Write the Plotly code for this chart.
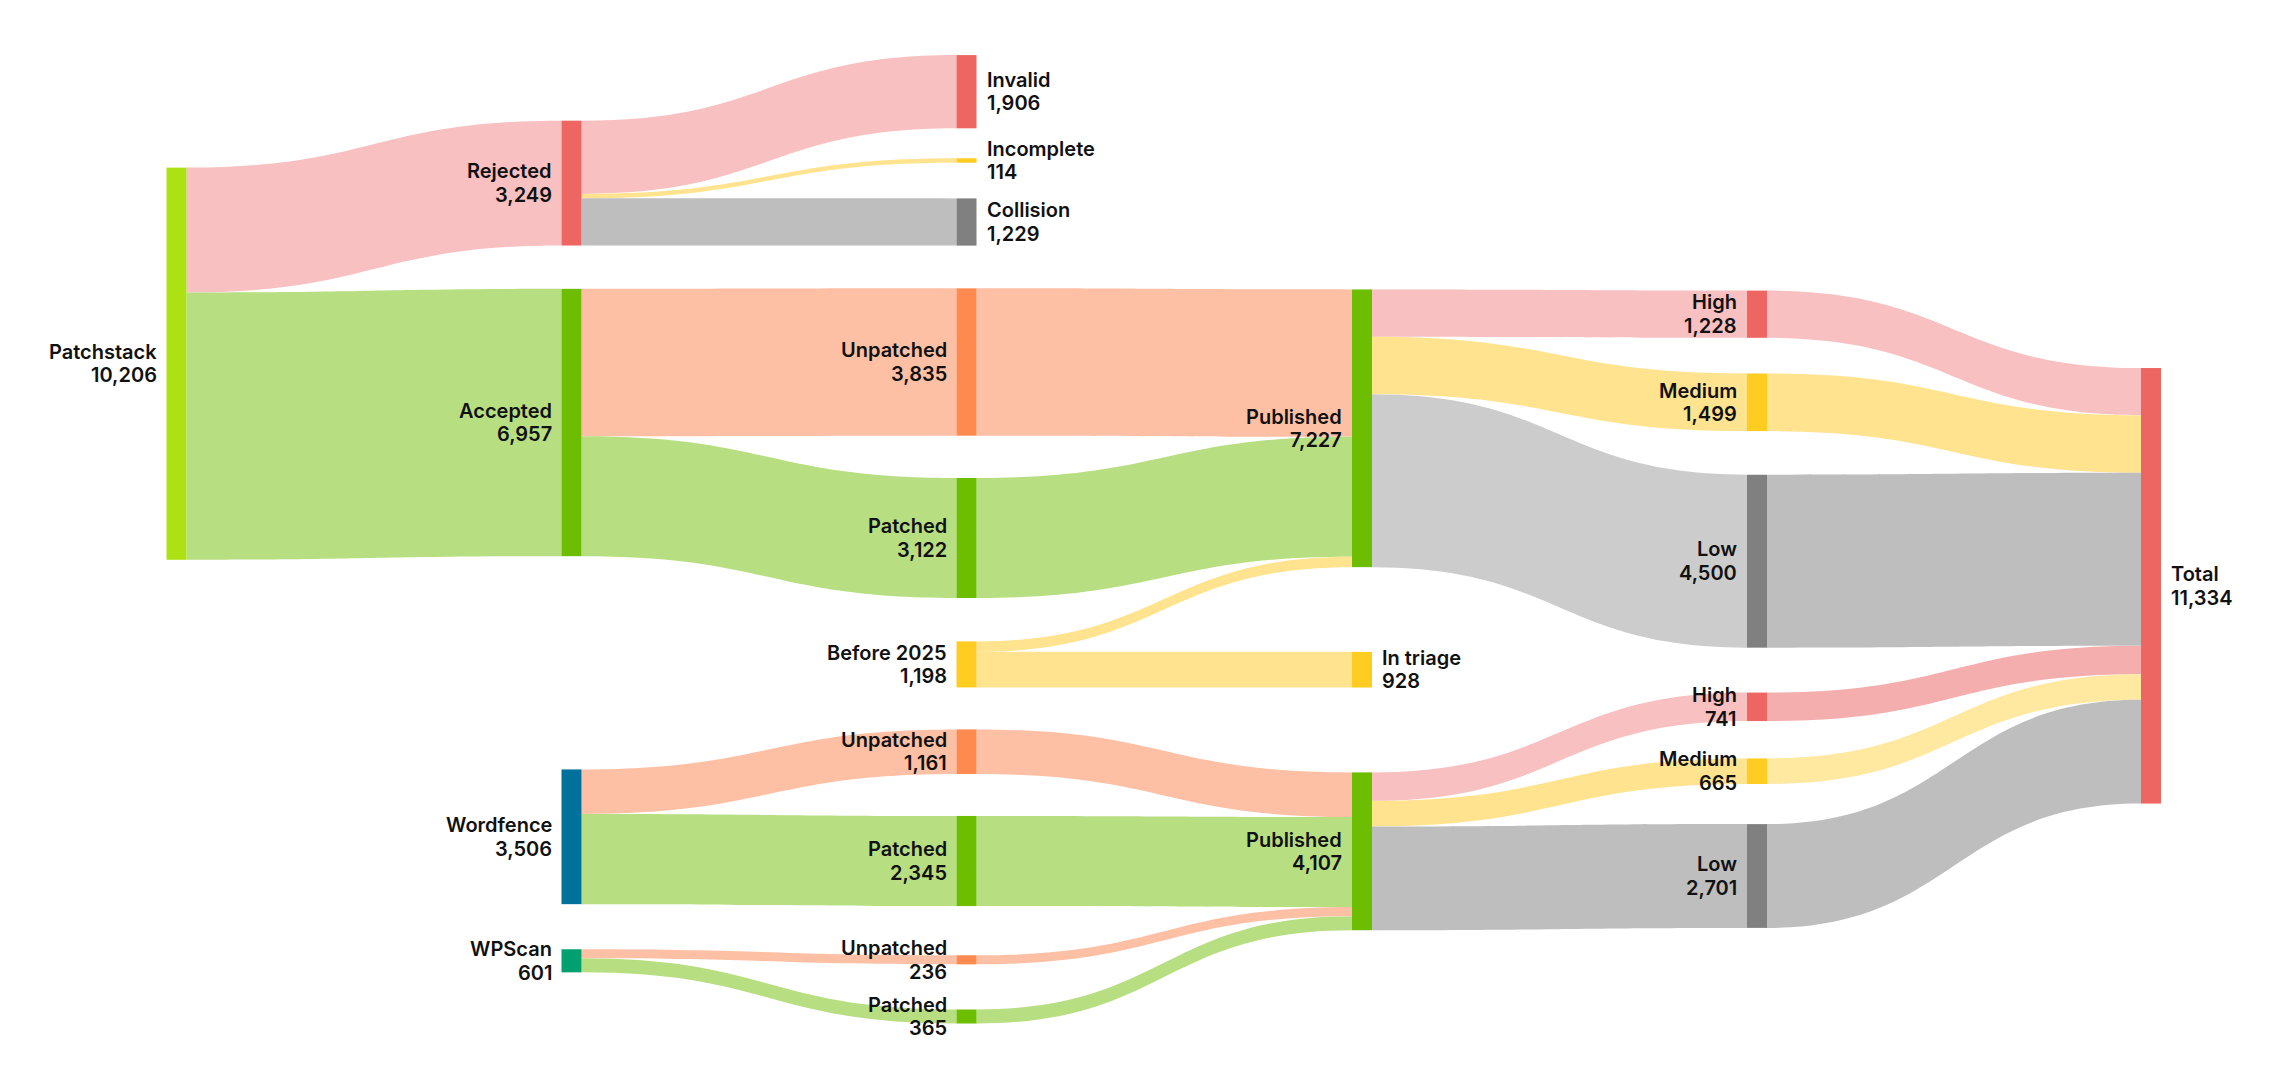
import plotly.graph_objects as go

# ---------------- data ----------------
node_names = ["Patchstack", "Rejected", "Accepted", "Invalid", "Incomplete", "Collision",
              "Unpatched", "Patched", "Before 2025", "Published", "In triage",
              "High", "Medium", "Low", "Total", "Wordfence", "WPScan",
              "Unpatched", "Patched", "Unpatched", "Patched", "Published",
              "High", "Medium", "Low"]

link_source = [0, 0, 1, 1, 1, 2, 2, 6, 7, 8, 8, 9, 9, 9, 11, 12, 13,
               15, 15, 16, 16, 17, 18, 19, 20, 21, 21, 21, 22, 23, 24]
link_target = [1, 2, 3, 4, 5, 6, 7, 9, 9, 9, 10, 11, 12, 13, 14, 14, 14,
               17, 18, 19, 20, 21, 21, 21, 21, 22, 23, 24, 14, 14, 14]
link_value = [3249, 6957, 1906, 114, 1229, 3835, 3122, 3835, 3122, 270, 928,
              1228, 1499, 4500, 1228, 1499, 4500,
              1161, 2345, 236, 365, 1161, 2345, 236, 365,
              741, 665, 2701, 741, 665, 2701]

# ---------------- layout / style ----------------
W, H = 2287, 1080
THICK = 20
col_px = [176.5, 571.5, 966.5, 1362, 1757, 2151]
node_col = [0, 1, 1, 2, 2, 2, 2, 2, 2, 3, 3, 4, 4, 4, 5, 1, 1, 2, 2, 2, 2, 3, 4, 4, 4]
node_y_px = [363.7, 183.1, 422.5, 91.7, 160.5, 222.0, 362.0, 538.0, 664.4, 428.3, 669.7,
             314.2, 402.3, 561.2, 585.8, 836.8, 960.8, 751.7, 861.0, 959.8, 1016.5,
             851.3, 706.8, 771.2, 876.0]
label_right = {3, 4, 5, 10, 14}
LINE_GAP = 23.5
FONT = dict(family="Inter, Lato, sans-serif", size=20, color="#111111", weight=600)

RED, GREEN, LIME = "#EE6661", "#6DBE00", "#ACE214"
ORANGE, YELLOW, GRAY = "#FF8A4F", "#FFCC21", "#808080"
BLUE, TEAL = "#00709D", "#00A070"
node_colors = [LIME, RED, GREEN, RED, YELLOW, GRAY, ORANGE, GREEN, YELLOW, GREEN, YELLOW,
               RED, YELLOW, GRAY, RED, BLUE, TEAL, ORANGE, GREEN, ORANGE, GREEN, GREEN,
               RED, YELLOW, GRAY]

PINK, LGREEN, PEACH, LYEL = "#F8C0C0", "#B8DE82", "#FEC0A4", "#FFE38F"
LGRAY, LGRAY2 = "#BEBEBE", "#CCCCCC"
link_colors = [PINK, LGREEN, PINK, LYEL, LGRAY, PEACH, LGREEN, PEACH, LGREEN, LYEL, LYEL,
               PINK, LYEL, LGRAY2, PINK, LYEL, LGRAY,
               PEACH, LGREEN, PEACH, LGREEN, PEACH, LGREEN, PEACH, LGREEN,
               PINK, LYEL, LGRAY, "#F5AEAE", "#FFE8A0", LGRAY]

# node values (as plotly computes them)
n = len(node_names)
vin = [0] * n
vout = [0] * n
for s, t, v in zip(link_source, link_target, link_value):
    vout[s] += v
    vin[t] += v
node_values = [max(a, b) for a, b in zip(vin, vout)]

node_x = [col_px[c] / W for c in node_col]
node_y = [y / H for y in node_y_px]

fig = go.Figure(go.Sankey(
    arrangement="fixed",
    domain=dict(x=[0, 1], y=[0, 1]),
    node=dict(
        label=[""] * n,
        x=node_x,
        y=node_y,
        color=node_colors,
        thickness=THICK,
        pad=106,
        line=dict(width=0),
        customdata=node_names,
        hovertemplate="%{customdata}: %{value:,}<extra></extra>",
    ),
    link=dict(
        source=link_source,
        target=link_target,
        value=link_value,
        color=link_colors,
        hoverinfo="none",
    ),
))

annotations = []
for i in range(n):
    right = i in label_right
    for txt, ys in ((node_names[i], LINE_GAP / 2), (f"{node_values[i]:,}", -LINE_GAP / 2)):
        annotations.append(dict(
            xref="paper", yref="paper",
            x=node_x[i], y=1 - node_y[i],
            text=txt,
            showarrow=False,
            xanchor="left" if right else "right",
            yanchor="middle",
            align="left" if right else "right",
            xshift=(THICK / 2 + 8) * (1 if right else -1),
            yshift=ys,
            font=FONT,
        ))

fig.update_layout(
    width=W, height=H,
    margin=dict(l=0, r=0, t=0, b=0),
    paper_bgcolor="white",
    plot_bgcolor="white",
    annotations=annotations,
)

fig.write_html("out.html",
               config={"displayModeBar": False},
               post_script="document.body.style.margin='0';document.body.style.overflow='hidden';")
